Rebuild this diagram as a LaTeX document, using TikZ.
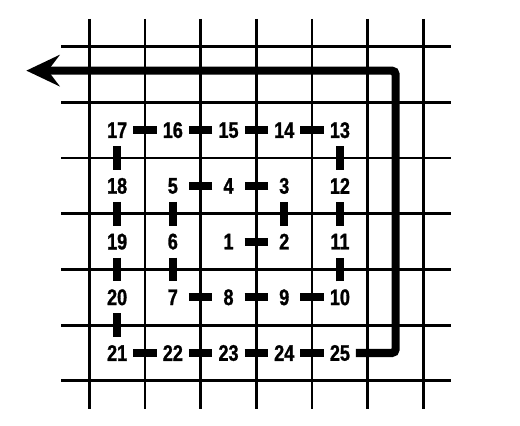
\documentclass[tikz,border=0pt]{standalone}
\usepackage{fontspec}
\setsansfont{Liberation Sans}[FakeStretch=0.8,BoldFeatures={FakeBold=1.2}]
\usetikzlibrary{arrows.meta,positioning}

\begin{document}
\begin{tikzpicture}[>=Latex,node distance=1cm,on grid,
 every node/.style={font=\fontsize{11.5}{13}\sffamily\bfseries},
 num/.style={minimum width=16pt,minimum height=16pt,inner sep=0pt},
 gridline/.style={line width=1.4pt},
 link/.style={line width=4.2pt},
 route/.style={line width=4.2pt,rounded corners=2pt}]
    \useasboundingbox (-1.603,0.838) rectangle (7.733,-6.81);
    % squared paper
    \foreach \i in {0,...,6} {
      \draw[gridline] (\i,0.5) -- (\i,-6.5);
      \draw[gridline] (-0.5,-\i) -- (6.5,-\i);
    }
    % numbered cells, winding out from the middle
    \node[num] (1) at (2.5,-3.5) {1};
    \node[num,right=of 1] (2) {2};
    \node[num,above=of 2] (3) {3};
    \node[num,left=of 3] (4) {4};
    \node[num,left=of 4] (5) {5};
    \node[num,below=of 5] (6) {6};
    \node[num,below=of 6] (7) {7};
    \node[num,right=of 7] (8) {8};
    \node[num,right=of 8] (9) {9};
    \node[num,right=of 9] (10) {10};
    \node[num,above=of 10] (11) {11};
    \node[num,above=of 11] (12) {12};
    \node[num,above=of 12] (13) {13};
    \node[num,left=of 13] (14) {14};
    \node[num,left=of 14] (15) {15};
    \node[num,left=of 15] (16) {16};
    \node[num,left=of 16] (17) {17};
    \node[num,below=of 17] (18) {18};
    \node[num,below=of 18] (19) {19};
    \node[num,below=of 19] (20) {20};
    \node[num,below=of 20] (21) {21};
    \node[num,right=of 21] (22) {22};
    \node[num,right=of 22] (23) {23};
    \node[num,right=of 23] (24) {24};
    \node[num,right=of 24] (25) {25};
    \draw[link] (1)--(2)--(3)--(4)--(5)--(6)--(7)--(8)--(9)--(10)--(11)--(12)
      --(13)--(14)--(15)--(16)--(17)--(18)--(19)--(20)--(21)--(22)--(23)--(24)--(25);
    % way out
    \coordinate (turnlow) at (5.5,-5.5);
    \coordinate (turnhigh) at (5.5,-0.43);
    \coordinate (exit) at (-1.13,-0.43);
    \draw[route,-{Stealth[length=17pt,width=16pt,inset=6pt]}]
      (25)--(turnlow)--(turnhigh)--(exit);
\end{tikzpicture}
\end{document}
